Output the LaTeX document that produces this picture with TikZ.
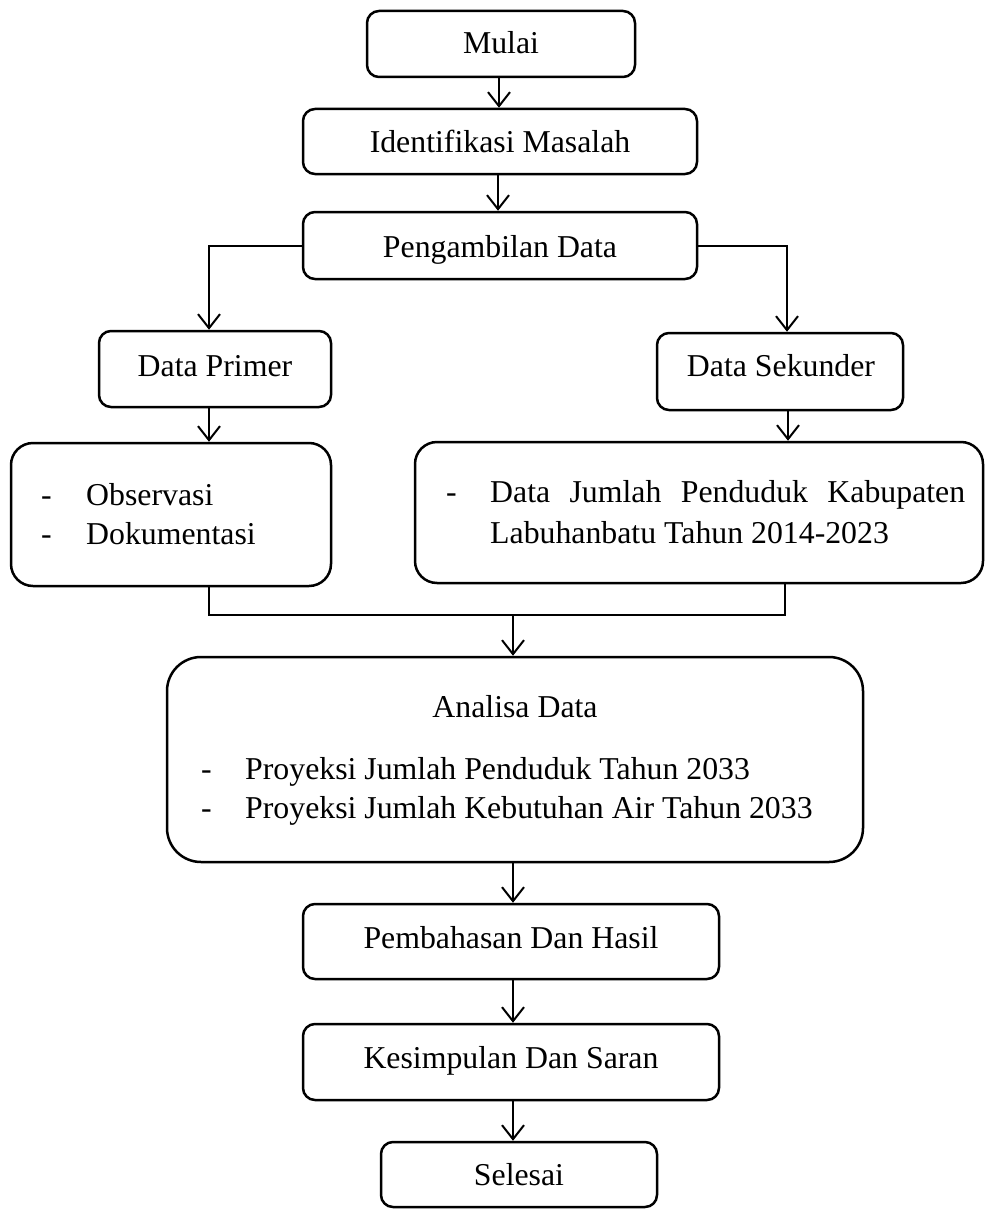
\documentclass[tikz,border=0pt]{standalone}
\usepackage{fontspec}
\setmainfont{Liberation Serif}
\usetikzlibrary{arrows.meta}
\begin{document}
\begin{tikzpicture}[x=1pt,y=-1pt,
  box/.style={draw,line width=2.5pt,rounded corners=12pt,inner sep=0pt,anchor=center},
  bigbox/.style={box,rounded corners=22pt},
  hugebox/.style={box,rounded corners=34pt},
  txt/.style={inner sep=0pt,anchor=base,font=\fontsize{31.8}{38}\selectfont},
  txtl/.style={txt,anchor=base west},
  arr/.style={line width=2pt,-{Straight Barb[length=14pt,width=22pt]}},
  ln/.style={line width=2pt}]
\useasboundingbox (0,0) rectangle (985,1212);
% boxes
\node[box,minimum width=268pt,minimum height=66pt] (mulai) at (501,44) {};
\node[box,minimum width=394pt,minimum height=65pt] (ident) at (500,141.5) {};
\node[box,minimum width=394pt,minimum height=67pt] (ambil) at (500,245.5) {};
\node[box,minimum width=232pt,minimum height=76pt] (primer) at (215,369) {};
\node[box,minimum width=246pt,minimum height=77pt] (sekunder) at (780,371.5) {};
\node[bigbox,minimum width=320pt,minimum height=143pt] (obs) at (171,514.5) {};
\node[bigbox,minimum width=568pt,minimum height=141pt] (djp) at (699,512.5) {};
\node[hugebox,minimum width=696pt,minimum height=205pt] (analisa) at (515,759.5) {};
\node[box,minimum width=416pt,minimum height=75pt] (bahas) at (511,941.5) {};
\node[box,minimum width=416pt,minimum height=76pt] (simpul) at (511,1062) {};
\node[box,minimum width=276pt,minimum height=65pt] (selesai) at (519,1174.5) {};
% texts
\node[txt] (tmulai) at (501,54) {Mulai};
\node[txt] (tident) at (500,153) {Identifikasi Masalah};
\node[txt] (tambil) at (500,257) {Pengambilan Data};
\node[txt] (tprimer) at (215,376) {Data Primer};
\node[txt] (tsekunder) at (781,376) {Data Sekunder};
\node[txtl] (d1) at (41,505) {-};
\node[txtl] (tobs) at (86,505) {Observasi};
\node[txtl] (d2) at (41,544) {-};
\node[txtl] (tdok) at (86,544) {Dokumentasi};
\node[txtl] (d3) at (446,502) {-};
\node[txtl] (tdjp1) at (490,502) {\makebox[475pt][s]{Data Jumlah Penduduk Kabupaten}};
\node[txtl] (tdjp2) at (490,543) {Labuhanbatu Tahun 2014-2023};
\node[txt] (tanalisa) at (515,717) {Analisa Data};
\node[txtl] (d4) at (201,779) {-};
\node[txtl] (tpro1) at (245,779) {Proyeksi Jumlah Penduduk Tahun 2033};
\node[txtl] (d5) at (201,818) {-};
\node[txtl] (tpro2) at (245,818) {Proyeksi Jumlah Kebutuhan Air Tahun 2033};
\node[txt] (tbahas) at (511,948) {Pembahasan Dan Hasil};
\node[txt] (tsimpul) at (511,1068) {Kesimpulan Dan Saran};
\node[txt] (tselesai) at (519,1185) {Selesai};
% connectors
\draw[arr] ([xshift=-2pt]mulai.south) -- ([xshift=-2pt]mulai.south |- ident.north);
\draw[arr] ([xshift=-2pt]ident.south) -- ([xshift=-2pt]ident.south |- ambil.north);
\draw[arr] (ambil.west) -| ([xshift=-6pt]primer.north);
\draw[arr] (ambil.east) -| ([xshift=7pt]sekunder.north);
\draw[arr] ([xshift=-6pt]primer.south) -- ([xshift=-6pt]primer.south |- obs.north);
\draw[arr] ([xshift=8pt]sekunder.south) -- ([xshift=8pt]sekunder.south |- djp.north);
\coordinate (mL) at (209,615);
\coordinate (mR) at (785,615);
\coordinate (mC) at (513,615);
\draw[ln] (obs.south -| mL) -- (mL) -- (mR) -- (djp.south -| mR);
\draw[arr] (mC) -- (mC |- analisa.north);
\draw[arr] ([xshift=-2pt]analisa.south) -- ([xshift=-2pt]analisa.south |- bahas.north);
\draw[arr] ([xshift=2pt]bahas.south) -- ([xshift=2pt]bahas.south |- simpul.north);
\draw[arr] ([xshift=2pt]simpul.south) -- ([xshift=2pt]simpul.south |- selesai.north);
\end{tikzpicture}
\end{document}
